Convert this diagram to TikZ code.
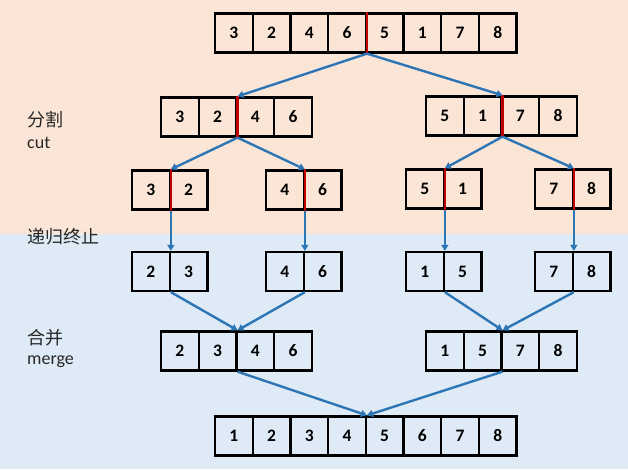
\documentclass[tikz,border=0pt]{standalone}
\usepackage{fontspec}
\setmainfont{Carlito}
\newfontfamily\cjk{Noto Sans CJK SC}
\usetikzlibrary{arrows.meta}
\definecolor{peach}{HTML}{FBE5D6}
\definecolor{lblue}{HTML}{DEEBF7}
\definecolor{arrblue}{HTML}{2E75B6}
\definecolor{divred}{HTML}{C00000}
\tikzset{
  cell/.style={draw=black, line width=2.3pt, minimum width=37.7pt, minimum height=39pt, inner sep=0pt, font=\fontsize{17.5}{17.5}\selectfont\bfseries},
  conn/.style={draw=arrblue, line width=2.4pt, -{Triangle[length=6pt,width=7pt]}},
  divider/.style={draw=divred, line width=2.3pt},
  lbl/.style={anchor=west, inner sep=0pt, text=black!85, font=\fontsize{18}{18}\selectfont}
}
\newcommand{\cellrow}[4]{%
  \foreach \v [count=\i] in {#4} {
    \node[cell] (#1\i) at ({#2+(\i-0.5)*37.7}, #3) {\v};
  }%
}
\begin{document}
\begin{tikzpicture}[x=1pt,y=-1pt]
\fill[peach] (0,0) rectangle (628,234);
\fill[lblue] (0,234) rectangle (628,469);
\useasboundingbox (0,0) rectangle (628,469);

% labels
\node[lbl] (lcut1) at (27,120) {\cjk 分割};
\node[lbl] (lcut2) at (27,143) {cut};
\node[lbl] (lstop) at (27,237) {\cjk 递归终止};
\node[lbl] (lmer1) at (27,338) {\cjk 合并};
\node[lbl] (lmer2) at (27,362) {merge};

% rows
\cellrow{t}{215}{33}{3,2,4,6,5,1,7,8}
\cellrow{a}{161}{117}{3,2,4,6}
\cellrow{b}{426}{116}{5,1,7,8}
\cellrow{c}{132}{190}{3,2}
\cellrow{d}{266}{190}{4,6}
\cellrow{e}{406}{189}{5,1}
\cellrow{f}{535}{189}{7,8}
\cellrow{g}{132}{271.5}{2,3}
\cellrow{h}{266}{271.5}{4,6}
\cellrow{i}{406}{271.5}{1,5}
\cellrow{j}{535}{271.5}{7,8}
\cellrow{k}{161}{351}{2,3,4,6}
\cellrow{m}{426}{351}{1,5,7,8}
\cellrow{z}{215}{436}{1,2,3,4,5,6,7,8}

% red dividers
\draw[divider] (t4.north east) -- (t4.south east);
\draw[divider] (a2.north east) -- (a2.south east);
\draw[divider] (b2.north east) -- (b2.south east);
\draw[divider] (c1.north east) -- (c1.south east);
\draw[divider] (d1.north east) -- (d1.south east);
\draw[divider] (e1.north east) -- (e1.south east);
\draw[divider] (f1.north east) -- (f1.south east);

% connectors
\draw[conn] (t4.south east) -- (a2.north east);
\draw[conn] (t4.south east) -- (b2.north east);
\draw[conn] (a2.south east) -- (c1.north east);
\draw[conn] (a2.south east) -- (d1.north east);
\draw[conn] (b2.south east) -- (e1.north east);
\draw[conn] (b2.south east) -- (f1.north east);
\draw[conn] (c1.south east) -- (g1.north east);
\draw[conn] (d1.south east) -- (h1.north east);
\draw[conn] (e1.south east) -- (i1.north east);
\draw[conn] (f1.south east) -- (j1.north east);
\draw[conn] (g1.south east) -- (k2.north east);
\draw[conn] (h1.south east) -- (k2.north east);
\draw[conn] (i1.south east) -- (m2.north east);
\draw[conn] (j1.south east) -- (m2.north east);
\draw[conn] (k2.south east) -- (z4.north east);
\draw[conn] (m2.south east) -- (z4.north east);
\end{tikzpicture}
\end{document}
